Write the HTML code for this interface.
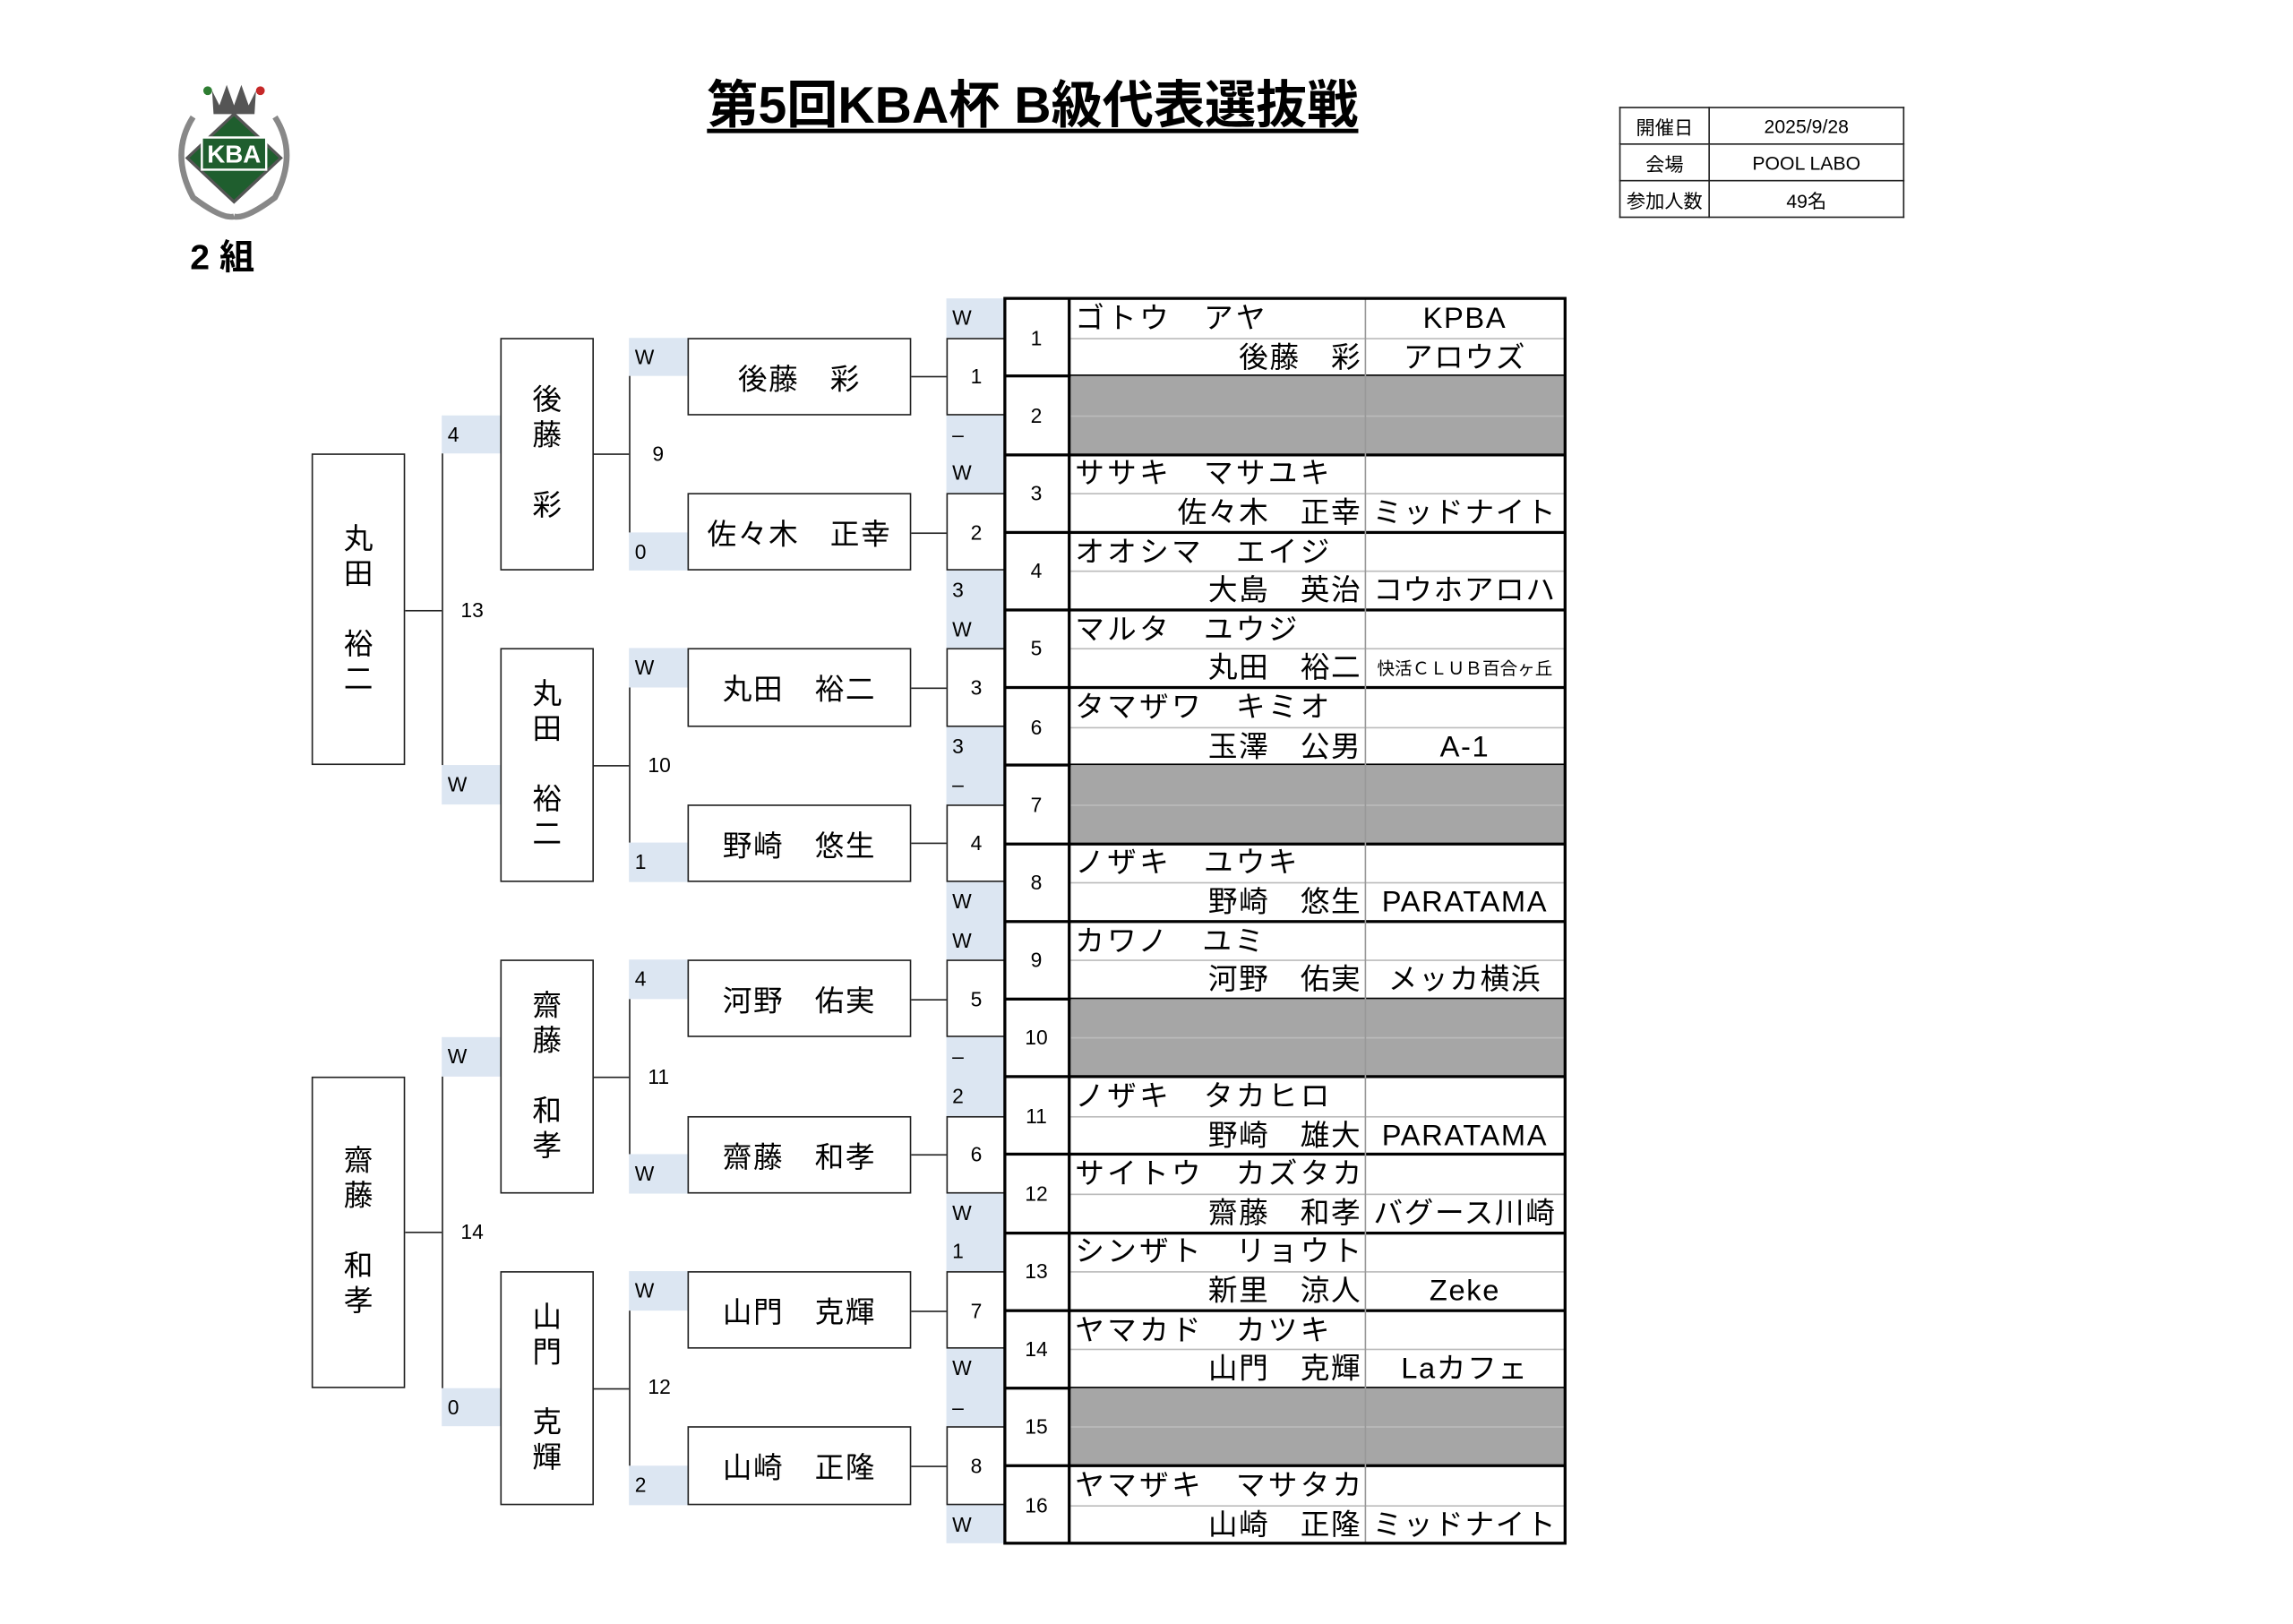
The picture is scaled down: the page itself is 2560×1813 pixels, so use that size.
<!DOCTYPE html>
<html><head><meta charset="utf-8"><style>
html,body{margin:0;padding:0;background:#fff;}
body{width:2560px;height:1809px;overflow:hidden;position:relative;}
#w{position:absolute;left:0;top:0;width:1570px;height:1110px;transform:scale(1.633);transform-origin:0 0;font-family:"Liberation Sans","Noto Sans CJK JP",sans-serif;color:#000;}
.a{position:absolute;box-sizing:border-box;}
.bl{background:#dce6f2;}
.bx{border:1.5px solid #222;background:#fff;display:flex;align-items:center;justify-content:center;}
.hl{position:absolute;height:0;border-top:1.5px solid #222;}
.vl{position:absolute;width:0;border-left:1.5px solid #222;}
.sc{position:absolute;font-size:14px;line-height:26.6px;padding-left:4px;width:40px;box-sizing:border-box;}
.nm{font-size:20px;letter-spacing:1px;}
.vt{font-size:20px;line-height:24px;text-align:center;flex-direction:column;}
.num{font-size:14px;}
.row{position:absolute;left:0;width:383px;height:53.2px;box-sizing:border-box;}
.row .n{position:absolute;left:0;top:0;width:43px;height:53.2px;display:flex;align-items:center;justify-content:center;font-size:14px;}
.row .k{position:absolute;left:48px;top:0;height:26.6px;line-height:28px;font-size:20px;letter-spacing:2px;white-space:nowrap;}
.row .j{position:absolute;left:45px;width:199px;top:26.6px;height:26.6px;line-height:28px;font-size:20px;letter-spacing:1px;text-align:right;white-space:nowrap;}
.row .t1,.row .t2{position:absolute;left:246px;width:137px;height:26.6px;line-height:28px;font-size:20px;text-align:center;white-space:nowrap;letter-spacing:1px;}
.row .t1{top:0}.row .t2{top:26.6px}
.row .m{position:absolute;left:45px;right:0;top:26.6px;border-top:1px solid #bbb;}
.row .g{position:absolute;left:45px;right:0;top:0;bottom:0;background:#a6a6a6;}
.row .sep{position:absolute;left:0;right:0;bottom:-1.25px;border-top:2.5px solid #000;}
.info td{border:1.2px solid #222;font-size:13px;text-align:center;height:24px;padding:0;}
</style></head><body><div id="w">

<svg class="a" style="left:112px;top:50px" width="96" height="104" viewBox="0 0 96 104">
 <path d="M20 30 Q4 55 20 85 Q40 100 48 98" fill="none" stroke="#888" stroke-width="4"/>
 <path d="M76 30 Q92 55 76 85 Q56 100 48 98" fill="none" stroke="#888" stroke-width="4"/>
 <path d="M33 12 L38 22 L43 8 L48 22 L53 8 L58 22 L63 12 L62 28 L34 28 Z" fill="#555"/>
 <circle cx="30" cy="12" r="3" fill="#2e7d32"/><circle cx="66" cy="12" r="3" fill="#c62828"/>
 <path d="M48 28 L80 58 L48 88 L16 58 Z" fill="#1f5e2e" stroke="#555" stroke-width="2"/>
 <rect x="26" y="44" width="44" height="22" fill="#1f5e2e" stroke="#fff" stroke-width="1.5"/>
 <text x="48" y="61" text-anchor="middle" font-family="Liberation Sans" font-weight="bold" font-size="17" fill="#fff">KBA</text>
</svg>

<div class="a" style="left:130px;top:162px;font-size:24px;line-height:30px;font-weight:bold;">2 組</div>

<div class="a" style="left:440px;top:52px;width:532px;text-align:center;font-size:35px;font-weight:bold;line-height:42px;"><span style="text-decoration:underline;text-underline-offset:4px;">第5回KBA杯 B級代表選抜戦</span></div>

<table class="info a" style="left:1107px;top:73px;width:195px;border-collapse:collapse;">
<tr><td style="width:60px">開催日</td><td>2025/9/28</td></tr>
<tr><td>会場</td><td>POOL LABO</td></tr>
<tr><td>参加人数</td><td>49名</td></tr>
</table>

<div class="a bl" style="left:647px;top:204px;width:40px;height:851px;"></div>
<div class="sc" style="left:647px;top:204px">W</div>
<div class="sc" style="left:647px;top:283.8px">–</div>
<div class="sc" style="left:647px;top:310.4px">W</div>
<div class="sc" style="left:647px;top:390.2px">3</div>
<div class="sc" style="left:647px;top:416.8px">W</div>
<div class="sc" style="left:647px;top:496.6px">3</div>
<div class="sc" style="left:647px;top:523.2px">–</div>
<div class="sc" style="left:647px;top:603px">W</div>
<div class="sc" style="left:647px;top:629.6px">W</div>
<div class="sc" style="left:647px;top:709.4px">–</div>
<div class="sc" style="left:647px;top:736px">2</div>
<div class="sc" style="left:647px;top:815.8px">W</div>
<div class="sc" style="left:647px;top:842.4px">1</div>
<div class="sc" style="left:647px;top:922.2px">W</div>
<div class="sc" style="left:647px;top:948.8px">–</div>
<div class="sc" style="left:647px;top:1028.6px">W</div>
<div class="a bx num" style="left:647px;top:230.6px;width:41px;height:53.2px">1</div>
<div class="a bx num" style="left:647px;top:337px;width:41px;height:53.2px">2</div>
<div class="a bx num" style="left:647px;top:443.4px;width:41px;height:53.2px">3</div>
<div class="a bx num" style="left:647px;top:549.8px;width:41px;height:53.2px">4</div>
<div class="a bx num" style="left:647px;top:656.2px;width:41px;height:53.2px">5</div>
<div class="a bx num" style="left:647px;top:762.6px;width:41px;height:53.2px">6</div>
<div class="a bx num" style="left:647px;top:869px;width:41px;height:53.2px">7</div>
<div class="a bx num" style="left:647px;top:975.4px;width:41px;height:53.2px">8</div>

<div class="hl" style="left:622px;width:25px;top:257.2px"></div>
<div class="hl" style="left:622px;width:25px;top:363.6px"></div>
<div class="hl" style="left:622px;width:25px;top:470px"></div>
<div class="hl" style="left:622px;width:25px;top:576.4px"></div>
<div class="hl" style="left:622px;width:25px;top:682.8px"></div>
<div class="hl" style="left:622px;width:25px;top:789.2px"></div>
<div class="hl" style="left:622px;width:25px;top:895.6px"></div>
<div class="hl" style="left:622px;width:25px;top:1002px"></div>

<div class="a bl" style="left:430px;top:230.6px;width:40px;height:26.6px"></div><div class="sc" style="left:430px;top:230.6px">W</div>
<div class="a bl" style="left:430px;top:363.6px;width:40px;height:26.6px"></div><div class="sc" style="left:430px;top:363.6px">0</div>
<div class="a bl" style="left:430px;top:443.4px;width:40px;height:26.6px"></div><div class="sc" style="left:430px;top:443.4px">W</div>
<div class="a bl" style="left:430px;top:576.4px;width:40px;height:26.6px"></div><div class="sc" style="left:430px;top:576.4px">1</div>
<div class="a bl" style="left:430px;top:656.2px;width:40px;height:26.6px"></div><div class="sc" style="left:430px;top:656.2px">4</div>
<div class="a bl" style="left:430px;top:789.2px;width:40px;height:26.6px"></div><div class="sc" style="left:430px;top:789.2px">W</div>
<div class="a bl" style="left:430px;top:869px;width:40px;height:26.6px"></div><div class="sc" style="left:430px;top:869px">W</div>
<div class="a bl" style="left:430px;top:1002px;width:40px;height:26.6px"></div><div class="sc" style="left:430px;top:1002px">2</div>

<div class="a bx nm" style="left:470px;top:230.6px;width:153px;height:53.2px">後藤　彩</div>
<div class="a bx nm" style="left:470px;top:337px;width:153px;height:53.2px">佐々木　正幸</div>
<div class="a bx nm" style="left:470px;top:443.4px;width:153px;height:53.2px">丸田　裕二</div>
<div class="a bx nm" style="left:470px;top:549.8px;width:153px;height:53.2px">野崎　悠生</div>
<div class="a bx nm" style="left:470px;top:656.2px;width:153px;height:53.2px">河野　佑実</div>
<div class="a bx nm" style="left:470px;top:762.6px;width:153px;height:53.2px">齋藤　和孝</div>
<div class="a bx nm" style="left:470px;top:869px;width:153px;height:53.2px">山門　克輝</div>
<div class="a bx nm" style="left:470px;top:975.4px;width:153px;height:53.2px">山崎　正隆</div>

<div class="vl" style="left:430px;top:257.2px;height:106.4px"></div>
<div class="vl" style="left:430px;top:470px;height:106.4px"></div>
<div class="vl" style="left:430px;top:682.8px;height:106.4px"></div>
<div class="vl" style="left:430px;top:895.6px;height:106.4px"></div>
<div class="hl" style="left:405px;width:25px;top:310.4px"></div>
<div class="hl" style="left:405px;width:25px;top:523.2px"></div>
<div class="hl" style="left:405px;width:25px;top:736px"></div>
<div class="hl" style="left:405px;width:25px;top:948.8px"></div>
<div class="a" style="left:446px;top:302px;font-size:14px">9</div>
<div class="a" style="left:443px;top:515px;font-size:14px">10</div>
<div class="a" style="left:443px;top:728px;font-size:14px">11</div>
<div class="a" style="left:443px;top:940px;font-size:14px">12</div>

<div class="a bl" style="left:302px;top:283.8px;width:40px;height:26.6px"></div><div class="sc" style="left:302px;top:283.8px">4</div>
<div class="a bl" style="left:302px;top:523.2px;width:40px;height:26.6px"></div><div class="sc" style="left:302px;top:523.2px">W</div>
<div class="a bl" style="left:302px;top:709.4px;width:40px;height:26.6px"></div><div class="sc" style="left:302px;top:709.4px">W</div>
<div class="a bl" style="left:302px;top:948.8px;width:40px;height:26.6px"></div><div class="sc" style="left:302px;top:948.8px">0</div>

<div class="a bx vt" style="left:342px;top:230.6px;width:64px;height:159.6px"><span>後</span><span>藤</span><span>&nbsp;</span><span>彩</span></div>
<div class="a bx vt" style="left:342px;top:443.4px;width:64px;height:159.6px"><span>丸</span><span>田</span><span>&nbsp;</span><span>裕</span><span>二</span></div>
<div class="a bx vt" style="left:342px;top:656.2px;width:64px;height:159.6px"><span>齋</span><span>藤</span><span>&nbsp;</span><span>和</span><span>孝</span></div>
<div class="a bx vt" style="left:342px;top:869px;width:64px;height:159.6px"><span>山</span><span>門</span><span>&nbsp;</span><span>克</span><span>輝</span></div>

<div class="vl" style="left:302px;top:310.4px;height:212.8px"></div>
<div class="vl" style="left:302px;top:736px;height:212.8px"></div>
<div class="hl" style="left:277px;width:25px;top:416.8px"></div>
<div class="hl" style="left:277px;width:25px;top:842.4px"></div>
<div class="a" style="left:315px;top:409px;font-size:14px">13</div>
<div class="a" style="left:315px;top:834px;font-size:14px">14</div>

<div class="a bx vt" style="left:213px;top:310.4px;width:64px;height:212.8px"><span>丸</span><span>田</span><span>&nbsp;</span><span>裕</span><span>二</span></div>
<div class="a bx vt" style="left:213px;top:736px;width:64px;height:212.8px"><span>齋</span><span>藤</span><span>&nbsp;</span><span>和</span><span>孝</span></div>

<div class="a" style="left:687px;top:204px;width:383px;height:851.2px;">
<div class="row" style="top:0"><div class="m"></div><div class="n">1</div><div class="k">ゴトウ　アヤ</div><div class="j">後藤　彩</div><div class="t1">KPBA</div><div class="t2">アロウズ</div><div class="sep"></div></div>
<div class="row" style="top:53.2px"><div class="g"></div><div class="m"></div><div class="n">2</div><div class="sep"></div></div>
<div class="row" style="top:106.4px"><div class="m"></div><div class="n">3</div><div class="k">ササキ　マサユキ</div><div class="j">佐々木　正幸</div><div class="t2">ミッドナイト</div><div class="sep"></div></div>
<div class="row" style="top:159.6px"><div class="m"></div><div class="n">4</div><div class="k">オオシマ　エイジ</div><div class="j">大島　英治</div><div class="t2">コウホアロハ</div><div class="sep"></div></div>
<div class="row" style="top:212.8px"><div class="m"></div><div class="n">5</div><div class="k">マルタ　ユウジ</div><div class="j">丸田　裕二</div><div class="t2" style="font-size:12px;letter-spacing:0">快活ＣＬＵＢ百合ヶ丘</div><div class="sep"></div></div>
<div class="row" style="top:266px"><div class="m"></div><div class="n">6</div><div class="k">タマザワ　キミオ</div><div class="j">玉澤　公男</div><div class="t2">A-1</div><div class="sep"></div></div>
<div class="row" style="top:319.2px"><div class="g"></div><div class="m"></div><div class="n">7</div><div class="sep"></div></div>
<div class="row" style="top:372.4px"><div class="m"></div><div class="n">8</div><div class="k">ノザキ　ユウキ</div><div class="j">野崎　悠生</div><div class="t2">PARATAMA</div><div class="sep"></div></div>
<div class="row" style="top:425.6px"><div class="m"></div><div class="n">9</div><div class="k">カワノ　ユミ</div><div class="j">河野　佑実</div><div class="t2">メッカ横浜</div><div class="sep"></div></div>
<div class="row" style="top:478.8px"><div class="g"></div><div class="m"></div><div class="n">10</div><div class="sep"></div></div>
<div class="row" style="top:532px"><div class="m"></div><div class="n">11</div><div class="k">ノザキ　タカヒロ</div><div class="j">野崎　雄大</div><div class="t2">PARATAMA</div><div class="sep"></div></div>
<div class="row" style="top:585.2px"><div class="m"></div><div class="n">12</div><div class="k">サイトウ　カズタカ</div><div class="j">齋藤　和孝</div><div class="t2">バグース川崎</div><div class="sep"></div></div>
<div class="row" style="top:638.4px"><div class="m"></div><div class="n">13</div><div class="k">シンザト　リョウト</div><div class="j">新里　涼人</div><div class="t2">Zeke</div><div class="sep"></div></div>
<div class="row" style="top:691.6px"><div class="m"></div><div class="n">14</div><div class="k">ヤマカド　カツキ</div><div class="j">山門　克輝</div><div class="t2">Laカフェ</div><div class="sep"></div></div>
<div class="row" style="top:744.8px"><div class="g"></div><div class="m"></div><div class="n">15</div><div class="sep"></div></div>
<div class="row" style="top:798px"><div class="m"></div><div class="n">16</div><div class="k">ヤマザキ　マサタカ</div><div class="j">山崎　正隆</div><div class="t2">ミッドナイト</div></div>
<div class="a" style="left:246px;top:0;height:851.2px;border-left:1px solid #999;"></div>
<div class="a" style="left:43px;top:0;height:851.2px;border-left:2.5px solid #000;"></div>
<div class="a" style="left:-1.25px;top:-1.25px;width:385.5px;height:853.7px;border:2.5px solid #000;"></div>
</div>

</div></body></html>
